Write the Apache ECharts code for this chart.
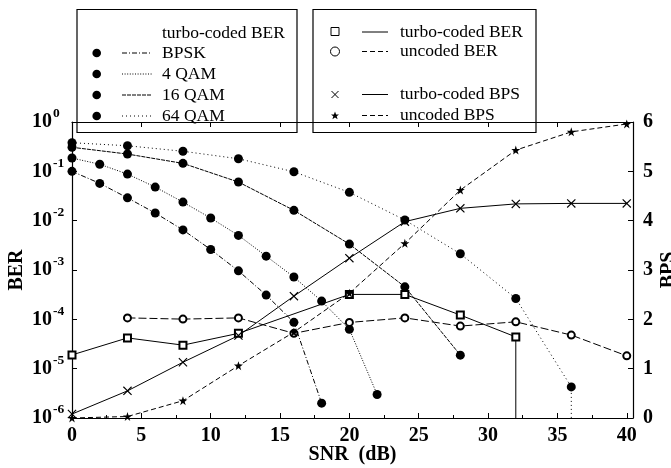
<!DOCTYPE html>
<html>
<head>
<meta charset="utf-8">
<script src="https://cdn.jsdelivr.net/npm/echarts@6/dist/echarts.min.js"></script>
<style>
html,body{margin:0;padding:0;background:#fff;}
#chart{width:671px;height:468px;}
</style>
</head>
<body>
<div id="chart"></div>
<script>
// ---- data ----
const bpskSnr = [0, 2, 4, 6, 8, 10, 12, 14, 16, 18];
const bpskBer = [0.1, 0.057, 0.029, 0.0143, 0.0065, 0.0026, 9.6e-4, 3.1e-4, 8.7e-5, 2.0e-6];
const qam4Snr = [0, 2, 4, 6, 8, 10, 12, 14, 16, 18, 20, 22];
const qam4Ber = [0.186, 0.139, 0.088, 0.048, 0.0238, 0.0113, 0.00503, 0.00191, 7.2e-4, 2.34e-4, 6.3e-5, 3.0e-6];
const qam16Snr = [0, 4, 8, 12, 16, 20, 24, 28];
const qam16Ber = [0.307, 0.224, 0.145, 0.0607, 0.0162, 0.00335, 4.56e-4, 1.88e-5];
const qam64Snr = [0, 4, 8, 12, 16, 20, 24, 28, 32, 36, 36];
const qam64Ber = [0.38, 0.33, 0.255, 0.18, 0.098, 0.0375, 0.0103, 0.00213, 2.65e-4, 4.27e-6, 0];
const turboBerSnr = [0, 4, 8, 12, 20, 24, 28, 32, 32];
const turboBer = [1.9e-5, 4.2e-5, 3.0e-5, 5.2e-5, 3.2e-4, 3.2e-4, 1.22e-4, 4.4e-5, 0];
const uncodedBerSnr = [4, 8, 12, 16, 20, 24, 28, 32, 36, 40];
const uncodedBer = [1.07e-4, 1.01e-4, 1.07e-4, 5.2e-5, 8.65e-5, 1.07e-4, 7.3e-5, 8.9e-5, 4.8e-5, 1.82e-5];
const bpsSnr = [0, 4, 8, 12, 16, 20, 24, 28, 32, 36, 40];
const turboBps = [0.08, 0.55, 1.13, 1.67, 2.47, 3.24, 3.98, 4.25, 4.34, 4.35, 4.35];
const uncodedBps = [0, 0.03, 0.35, 1.06, 1.74, 2.53, 3.54, 4.62, 5.43, 5.80, 5.96];
const xTicks = [0, 5, 10, 15, 20, 25, 30, 35, 40];

// ---- helpers ----
const FONT = '"Liberation Serif", "DejaVu Serif", serif';
const LOG_FLOOR = 1e-12; // a BER of 0 falls below the log axis
const STAR = 'path://M5,0L6.2,3.6L10,3.6L6.9,5.9L8.1,9.6L5,7.3L1.9,9.6L3.1,5.9L0,3.6L3.8,3.6Z';
const CROSS = 'path://M0,0.9L0.9,0L5,4.1L9.1,0L10,0.9L5.9,5L10,9.1L9.1,10L5,5.9L0.9,10L0,9.1L4.1,5Z';

function pairs(xs, ys, isLog) {
  return xs.map((x, i) => {
    const y = ys[i];
    if (isLog && y <= 0) return { value: [x, LOG_FLOOR], symbol: 'none' };
    return [x, y];
  });
}

function lineSeries(name, xs, ys, yIdx, symbol, size, dash, emptyFill) {
  return {
    name: name, type: 'line', xAxisIndex: 0, yAxisIndex: yIdx,
    data: pairs(xs, ys, yIdx === 0),
    symbol: symbol, symbolSize: size, showSymbol: true,
    clip: true, animation: false, z: 3,
    lineStyle: { color: '#000', width: 1, type: dash },
    itemStyle: { color: emptyFill ? '#fff' : '#000', borderColor: '#000', borderWidth: emptyFill ? 1 : 0 }
  };
}

const series = [
  lineSeries('BPSK', bpskSnr, bpskBer, 0, 'circle', 9, [5, 2, 1, 2]),
  lineSeries('4 QAM', qam4Snr, qam4Ber, 0, 'circle', 9, [1, 1.6]),
  lineSeries('16 QAM', qam16Snr, qam16Ber, 0, 'circle', 9, [4, 1]),
  lineSeries('64 QAM', qam64Snr, qam64Ber, 0, 'circle', 9, [1, 3]),
  lineSeries('turbo-coded BER', turboBerSnr, turboBer, 0, 'emptyRect', 7, 'solid'),
  lineSeries('uncoded BER', uncodedBerSnr, uncodedBer, 0, 'emptyCircle', 7, [8, 3]),
  lineSeries('turbo-coded BPS', bpsSnr, turboBps, 1, CROSS, 9, 'solid'),
  lineSeries('uncoded BPS', bpsSnr, uncodedBps, 1, STAR, 9, [5, 3])
];

// ---- legend boxes (graphic) ----
function txt(x, y, s) {
  return { type: 'text', x: x, y: y, style: { text: s, font: '17.5px ' + FONT, fill: '#000', verticalAlign: 'middle', align: 'left' } };
}
function seg(x1, x2, y, dash) {
  return { type: 'line', shape: { x1: x1, y1: y, x2: x2, y2: y }, style: { stroke: '#000', lineWidth: 1, lineDash: dash || null } };
}
const leg1Rows = [53, 74, 95, 116];
const leg1Names = ['BPSK', '4 QAM', '16 QAM', '64 QAM'];
const leg1Dash = [[5, 2, 1, 2], [1, 1.6], [4, 1], [1, 3]];
const leg1 = [
  { type: 'rect', shape: { x: 77, y: 9.5, width: 220, height: 123 }, style: { fill: '#fff', stroke: '#000', lineWidth: 1.2 } },
  txt(162, 33, 'turbo-coded BER')
];
leg1Rows.forEach((y, i) => {
  leg1.push({ type: 'circle', shape: { cx: 96.7, cy: y, r: 4.3 }, style: { fill: '#000' } });
  leg1.push(seg(122, 152, y, leg1Dash[i]));
  leg1.push(txt(162, y, leg1Names[i]));
});

const leg2 = [
  { type: 'rect', shape: { x: 313, y: 9.5, width: 223, height: 123 }, style: { fill: '#fff', stroke: '#000', lineWidth: 1.2 } },
  { type: 'rect', shape: { x: 331, y: 27.5, width: 8, height: 8 }, style: { fill: '#fff', stroke: '#000', lineWidth: 1 } },
  seg(362, 388, 32), txt(400, 32, 'turbo-coded BER'),
  { type: 'circle', shape: { cx: 335, cy: 51.5, r: 4.5 }, style: { fill: '#fff', stroke: '#000', lineWidth: 1 } },
  seg(362, 388, 51.5, [5, 3]), txt(400, 51.5, 'uncoded BER'),
  { type: 'line', shape: { x1: 331.5, y1: 91, x2: 338.5, y2: 98 }, style: { stroke: '#000', lineWidth: 1 } },
  { type: 'line', shape: { x1: 338.5, y1: 91, x2: 331.5, y2: 98 }, style: { stroke: '#000', lineWidth: 1 } },
  seg(362, 388, 94.5), txt(400, 94.5, 'turbo-coded BPS'),
  { type: 'polygon', shape: { points: [[335, 111.5], [336.1, 114.4], [339, 114.5], [336.7, 116.3], [337.6, 119.3], [335, 117.5], [332.4, 119.3], [333.3, 116.3], [331, 114.5], [333.9, 114.4]] }, style: { fill: '#000' } },
  seg(362, 388, 115.5, [5, 3]), txt(400, 115.5, 'uncoded BPS')
];

const chart = echarts.init(document.getElementById('chart'), null, { renderer: 'canvas' });
const labelBold = { fontFamily: FONT, fontWeight: 'bold', fontSize: 20, color: '#000' };

chart.setOption({
  animation: false,
  backgroundColor: '#fff',
  grid: { left: 72, right: 38, top: 122, bottom: 50, containLabel: false, outerBoundsMode: 'none' },
  xAxis: [
    {
      type: 'value', position: 'bottom', min: 0, max: 40.45, interval: 5,
      name: 'SNR  (dB)', nameLocation: 'middle', nameGap: 27, nameMoveOverlap: false,
      nameTextStyle: { fontFamily: FONT, fontWeight: 'bold', fontSize: 20, color: '#000' },
      axisLine: { show: true, onZero: false, lineStyle: { color: '#000', width: 1.2 } },
      axisTick: { show: true, inside: true, length: 5, lineStyle: { color: '#000' } },
      minorTick: { show: true, splitNumber: 2, length: 3, lineStyle: { color: '#000' } },
      axisLabel: Object.assign({ margin: 8, formatter: v => (xTicks.indexOf(v) >= 0 ? String(v) : '') }, labelBold),
      splitLine: { show: false }
    },
    {
      type: 'value', position: 'top', min: 0, max: 40.45, interval: 5,
      axisLine: { show: true, onZero: false, lineStyle: { color: '#000', width: 1.2 } },
      axisTick: { show: true, inside: true, length: 5, lineStyle: { color: '#000' } },
      axisLabel: { show: false },
      splitLine: { show: false }
    }
  ],
  yAxis: [
    {
      type: 'log', logBase: 10, min: 1e-6, max: 1, splitNumber: 6, position: 'left',
      name: 'BER', nameLocation: 'middle', nameGap: 45, nameRotate: 90, nameMoveOverlap: false,
      nameTextStyle: { fontFamily: FONT, fontWeight: 'bold', fontSize: 20, color: '#000' },
      axisLine: { show: true, onZero: false, lineStyle: { color: '#000', width: 1.2 } },
      axisTick: { show: true, inside: true, length: 5, lineStyle: { color: '#000' } },
      axisLabel: {
        align: 'left', margin: 40,
        formatter: v => '{b|10}{s|' + Math.round(Math.log10(v)) + '}',
        rich: {
          b: { fontFamily: FONT, fontWeight: 'bold', fontSize: 20, color: '#000', lineHeight: 32, verticalAlign: 'middle' },
          s: { fontFamily: FONT, fontWeight: 'bold', fontSize: 13.5, color: '#000', lineHeight: 14, verticalAlign: 'top', padding: [1, 0, 0, 1] }
        }
      },
      splitLine: { show: false }
    },
    {
      type: 'value', min: 0, max: 6, interval: 1, position: 'right',
      name: 'BPS', nameLocation: 'middle', nameGap: 26, nameRotate: 90, nameMoveOverlap: false,
      nameTextStyle: { fontFamily: FONT, fontWeight: 'bold', fontSize: 20, color: '#000' },
      axisLine: { show: true, onZero: false, lineStyle: { color: '#000', width: 1.2 } },
      axisTick: { show: true, inside: true, length: 5, lineStyle: { color: '#000' } },
      axisLabel: Object.assign({ margin: 10 }, labelBold),
      splitLine: { show: false }
    }
  ],
  series: series,
  graphic: [
    { type: 'group', z: 100, children: leg1 },
    { type: 'group', z: 100, children: leg2 }
  ]
});
</script>
</body>
</html>
